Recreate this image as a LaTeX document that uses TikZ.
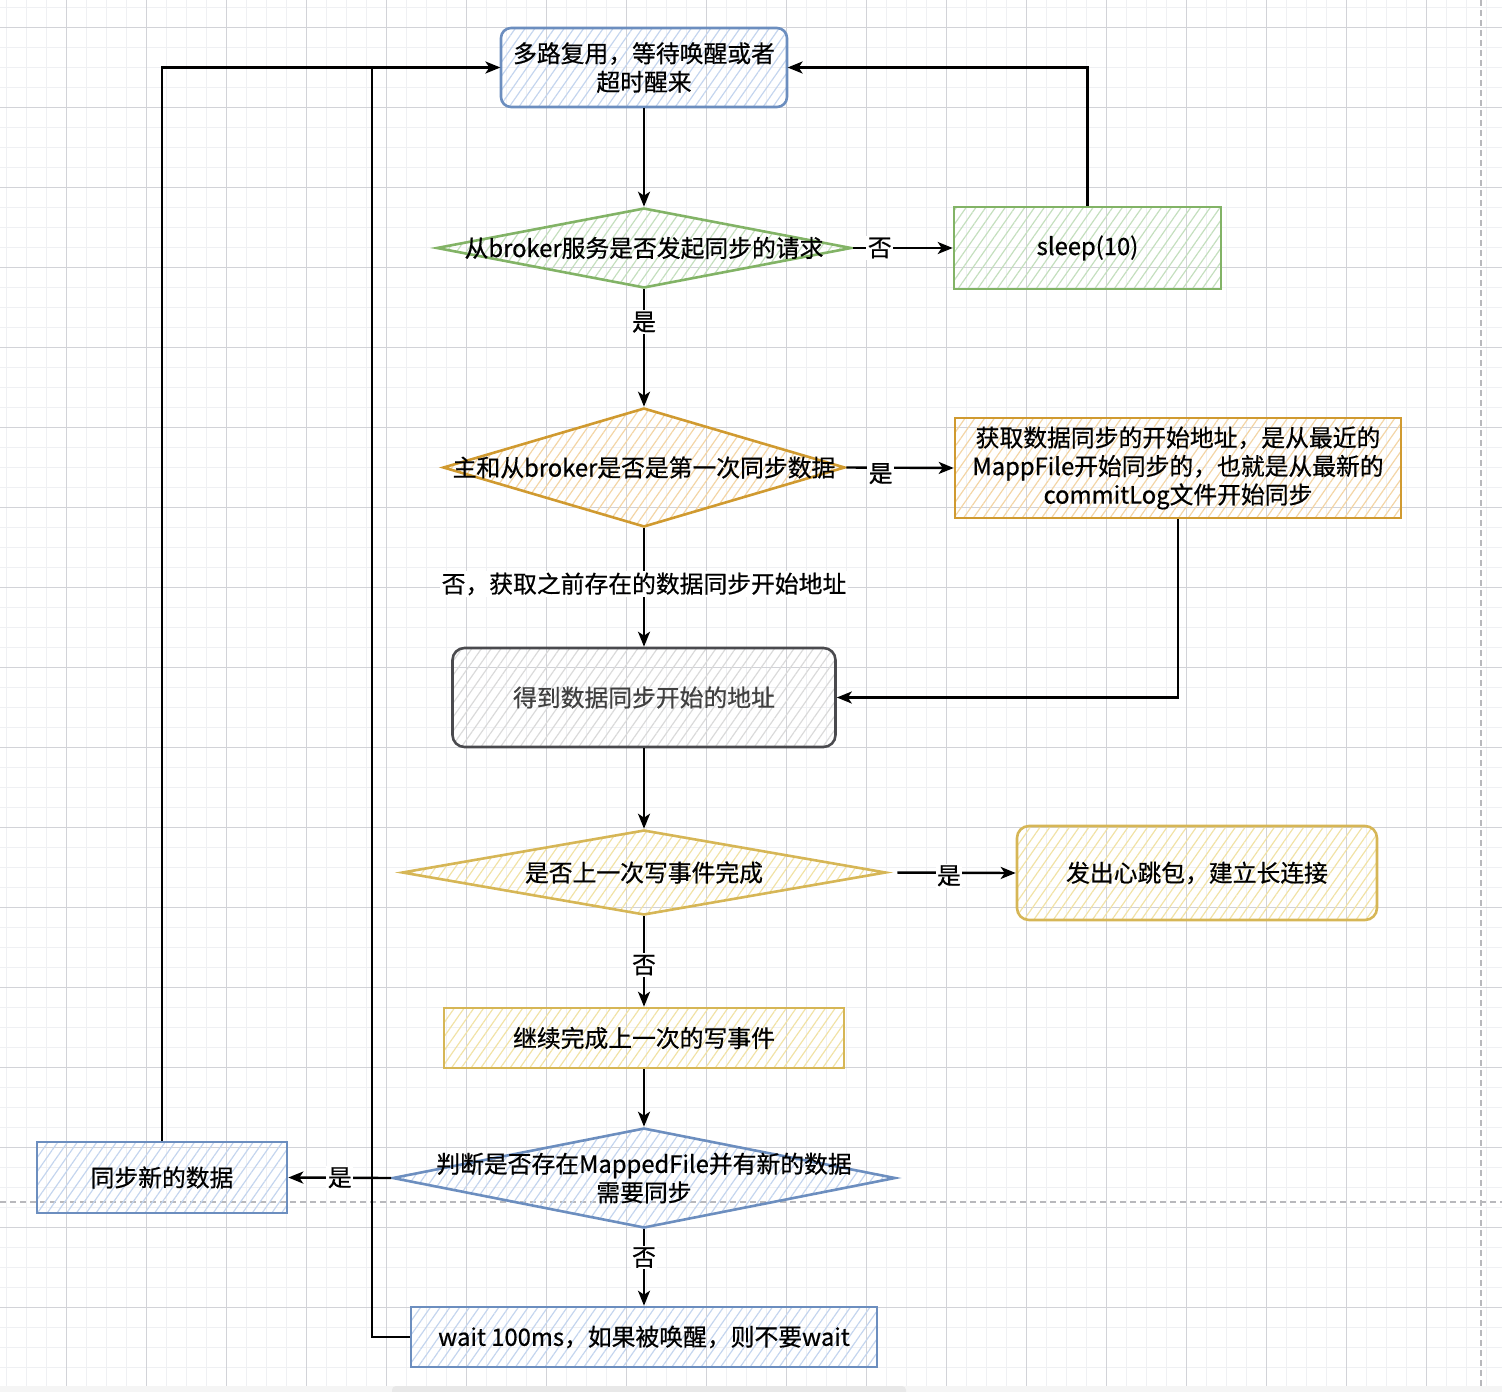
\documentclass[tikz,border=0pt]{standalone}
\usepackage{fontspec}
\setmainfont{Noto Sans CJK SC}[FakeBold=0.6]
\usetikzlibrary{shapes.geometric,arrows.meta,patterns.meta}

\definecolor{gridminor}{HTML}{EFF0F3}
\definecolor{gridmajor}{HTML}{D2D3D8}
\definecolor{pageline}{HTML}{B8B8BC}
\definecolor{blueline}{HTML}{6C8EBF}
\definecolor{bluehatch}{HTML}{C4D5EE}
\definecolor{greenline}{HTML}{82B366}
\definecolor{greenhatch}{HTML}{C4DFBE}
\definecolor{orangeline}{HTML}{D09A30}
\definecolor{orangehatch}{HTML}{F3D5A6}
\definecolor{yellowline}{HTML}{D6B656}
\definecolor{yellowhatch}{HTML}{F1E2A6}
\definecolor{grayline}{HTML}{4A4A4E}
\definecolor{grayhatch}{HTML}{DADADA}

\tikzset{
  base/.style={font=\fontsize{23.8}{28.5}\selectfont, text=black, align=center},
  hatch/.style={pattern={Lines[angle=55,distance=8pt,line width=1.2pt]}},
  proc/.style={base, rectangle, draw, line width=2.6pt, inner sep=0pt},
  dia/.style={diamond, draw, line width=2.6pt, inner sep=0pt},
  blueshape/.style={hatch, draw=blueline, pattern color=bluehatch},
  greenshape/.style={hatch, draw=greenline, pattern color=greenhatch},
  orangeshape/.style={hatch, draw=orangeline, pattern color=orangehatch},
  yellowshape/.style={hatch, draw=yellowline, pattern color=yellowhatch},
  grayshape/.style={hatch, draw=grayline, pattern color=grayhatch},
  flow/.style={line width=2.4pt, -{Stealth[length=15pt,width=12pt,inset=4pt]}},
  lbl/.style={base, fill=white, inner sep=1.5pt}
}

\begin{document}
\begin{tikzpicture}[x=1pt, y=-1pt]
\useasboundingbox (0,0) rectangle (1502,1392);
\clip (0,0) rectangle (1502,1392);

% background grid
\foreach \gx in {6.67,26.67,...,1502} \draw[gridminor, line width=1.5pt] (\gx,0) -- (\gx,1392);
\foreach \gy in {7.33,27.33,...,1392} \draw[gridminor, line width=1.5pt] (0,\gy) -- (1502,\gy);
\foreach \gx in {66.67,146.67,...,1502} \draw[gridmajor, line width=1pt] (\gx,0) -- (\gx,1392);
\foreach \gy in {27.33,107.33,...,1392} \draw[gridmajor, line width=1pt] (0,\gy) -- (1502,\gy);
\draw[pageline, line width=2pt, dash pattern=on 6pt off 4pt] (0,1202) -- (1502,1202);
\draw[pageline, line width=2pt, dash pattern=on 6pt off 4pt] (1481,0) -- (1481,1392);
\fill[gray!8] (0,1386) rectangle (1502,1392);
\fill[gray!18, rounded corners=4pt] (392,1386) rectangle (906,1396);

% nodes
\node[proc, blueshape, rounded corners=10pt, minimum width=286pt, minimum height=79pt] (wake) at (644,67.5) {多路复用，等待唤醒或者\\超时醒来};

\node[dia, greenshape, minimum width=415pt, minimum height=80pt] (ask) at (644,248) {};
\node[base] (asktext) at (ask) {从broker服务是否发起同步的请求};
\node[proc, greenshape, minimum width=267pt, minimum height=82pt] (sleep) at (1087.5,248) {sleep(10)};

\node[dia, orangeshape, minimum width=402pt, minimum height=119pt] (first) at (644,467.5) {};
\node[base] (firsttext) at (first) {主和从broker是否是第一次同步数据};
\node[proc, orangeshape, minimum width=446pt, minimum height=100pt] (latest) at (1178,468) {获取数据同步的开始地址，是从最近的\\MappFile开始同步的，也就是从最新的\\commitLog文件开始同步};

\node[proc, grayshape, rounded corners=12pt, minimum width=383pt, minimum height=99pt, text=black!75] (start) at (644,697.5) {得到数据同步开始的地址};

\node[dia, yellowshape, minimum width=484pt, minimum height=85pt] (done) at (644,872.5) {};
\node[base] (donetext) at (done) {是否上一次写事件完成};
\node[proc, yellowshape, rounded corners=12pt, minimum width=360pt, minimum height=94pt] (beat) at (1197,873) {发出心跳包，建立长连接};

\node[proc, yellowshape, minimum width=400pt, minimum height=60pt] (cont) at (644,1038) {继续完成上一次的写事件};

\node[dia, blueshape, minimum width=503pt, minimum height=100pt] (has) at (644,1178) {};
\node[base] (hastext) at (has) {判断是否存在MappedFile并有新的数据\\需要同步};
\node[proc, blueshape, minimum width=250pt, minimum height=71pt] (sync) at (162,1177.5) {同步新的数据};

\node[proc, blueshape, minimum width=466pt, minimum height=60pt] (wait) at (644,1337) {wait 100ms，如果被唤醒，则不要wait};

\coordinate (join) at (372,67.5);

% connectors
\draw[flow] (wake.south) -- (ask.north);
\draw[flow] (ask.east) -- node[lbl, pos=0.27] {否} (sleep.west);
\draw[flow] (sleep.north) |- (wake.east);
\draw[flow] (ask.south) -- node[lbl, pos=0.28] {是} (first.north);
\draw[flow] (first.east) -- node[lbl, pos=0.32, yshift=-6pt] {是} (latest.west);
\draw[flow] (first.south) -- node[lbl, pos=0.47] {否，获取之前存在的数据同步开始地址} (start.north);
\draw[flow] (latest.south) |- (start.east);
\draw[flow] (start.south) -- (done.north);
\draw[flow, shorten <=10pt] (done.east) -- node[lbl, pos=0.48, yshift=-3pt] {是} (beat.west);
\draw[flow] (done.south) -- node[lbl, pos=0.54] {否} (cont.north);
\draw[flow] (cont.south) -- (has.north);
\draw[flow] (has.west) -- node[lbl] {是} (sync.east);
\draw[flow] (has.south) -- node[lbl, pos=0.37] {否} (wait.north);
\draw[flow] (sync.north) |- (wake.west);
\draw[line width=2.4pt] (wait.west) -| (join);
\end{tikzpicture}
\end{document}
